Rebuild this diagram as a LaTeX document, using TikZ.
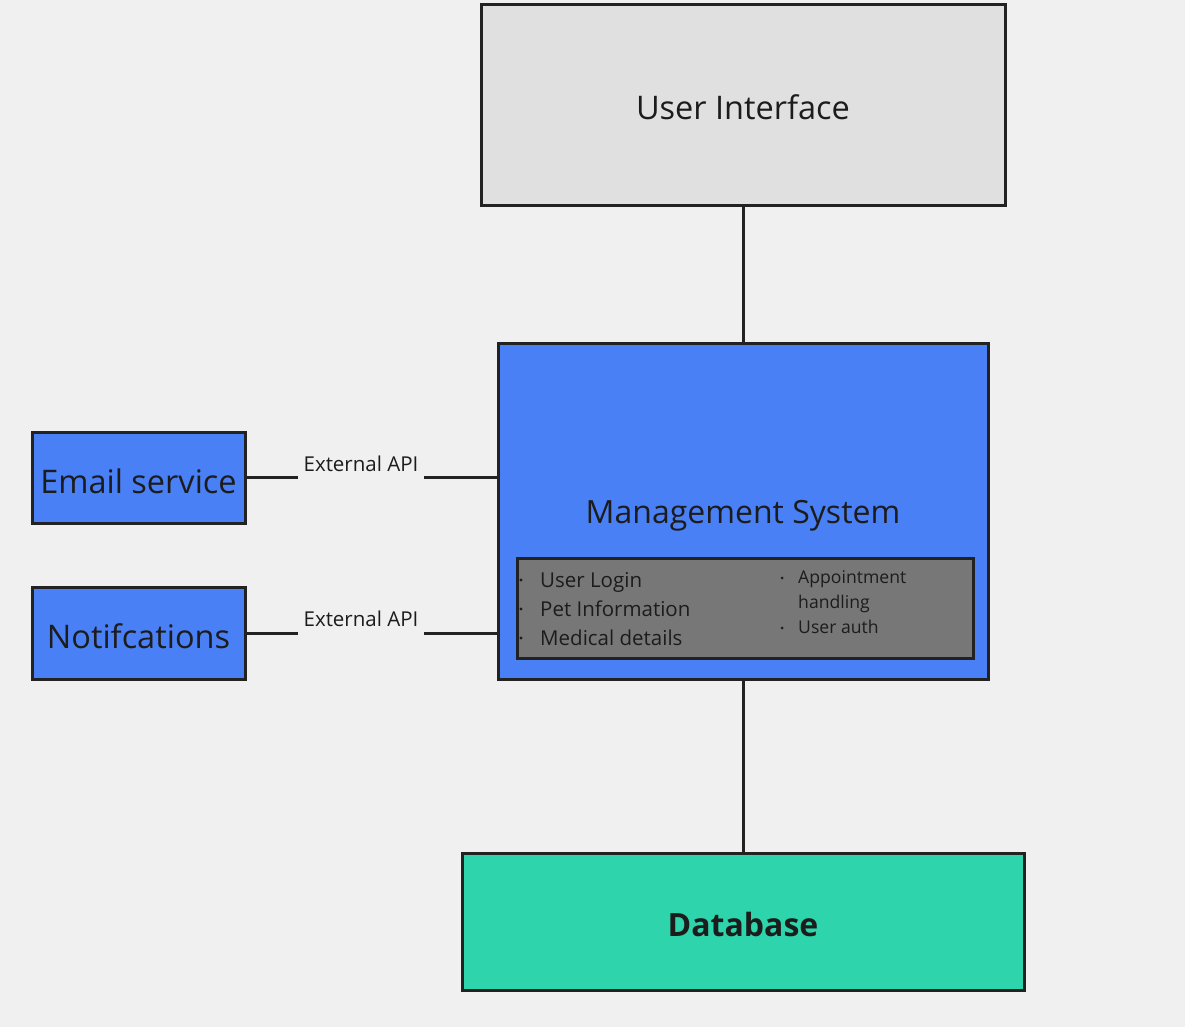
\documentclass[tikz,border=0pt]{standalone}
\usepackage{fontspec}
\setmainfont{Open Sans}
\definecolor{bgc}{RGB}{240,240,240}
\definecolor{edge}{RGB}{34,34,34}
\definecolor{uifill}{RGB}{224,224,224}
\definecolor{msblue}{RGB}{74,128,245}
\definecolor{innergray}{RGB}{119,119,119}
\definecolor{dbteal}{RGB}{45,212,172}
\definecolor{txt}{RGB}{28,28,28}
\begin{document}
\begin{tikzpicture}[x=1pt,y=-1pt,
  box/.style={draw=edge, line width=3pt, inner sep=0pt, text=txt, align=center},
  conn/.style={draw=edge, line width=3pt},
  lbl/.style={text=txt, inner sep=0pt},
  item/.style={text=txt, inner sep=0pt, anchor=base west, font=\fontsize{20.5}{24}\selectfont},
  itemsm/.style={text=txt, inner sep=0pt, anchor=base west, font=\fontsize{17.6}{20}\selectfont},
  dot/.style={fill=txt, draw=none, circle, inner sep=0pt, minimum size=3.4pt}
]
\fill[bgc] (0,0) rectangle (1185,1027);
\useasboundingbox (0,0) rectangle (1185,1027);

\node[box, fill=uifill, minimum width=524pt, minimum height=200pt] (ui) at (743,105) {};
\node[lbl, font=\fontsize{32.5}{38}\selectfont] (uit) at (743,107) {User Interface};
\node[box, fill=msblue, minimum width=490pt, minimum height=336pt] (ms) at (743,511) {};
\node[lbl, font=\fontsize{32}{38}\selectfont] (mstitle) at (743,516) {Management System};
\node[box, fill=innergray, minimum width=456pt, minimum height=100pt] (inner) at (745,608) {};

\node[box, fill=msblue, minimum width=213pt, minimum height=91pt] (email) at (138.5,477.5) {};
\node[lbl, font=\fontsize{32.5}{38}\selectfont] (emailt) at (138.5,481) {Email service};
\node[box, fill=msblue, minimum width=213pt, minimum height=92pt] (notif) at (138.5,633) {};
\node[lbl, font=\fontsize{32.5}{38}\selectfont] (notift) at (138.5,636) {Notifcations};
\node[box, fill=dbteal, minimum width=562pt, minimum height=137pt] (db) at (743,921.5) {};
\node[lbl, font=\fontsize{32}{38}\bfseries\selectfont] (dbt) at (743,924) {Database};

% bullet list left
\node[dot] (d1) at (521,580) {};
\node[dot] (d2) at (521,609) {};
\node[dot] (d3) at (521,638) {};
\node[item] (i1) at (540,587) {User Login};
\node[item] (i2) at (540,616) {Pet Information};
\node[item] (i3) at (540,645) {Medical details};
% bullet list right
\node[dot, minimum size=3pt] (d4) at (782,578) {};
\node[dot, minimum size=3pt] (d5) at (782,628) {};
\node[itemsm] (i4) at (798,583) {Appointment};
\node[itemsm] (i5) at (798,608) {handling};
\node[itemsm] (i6) at (798,633) {User auth};

% connectors
\draw[conn] (ui.south) -- (ms.north);
\draw[conn] (ms.south) -- (db.north);

\coordinate (g1a) at (298,477.5);
\coordinate (g1b) at (424,477.5);
\coordinate (g2a) at (298,633);
\coordinate (g2b) at (424,633);
\draw[conn] (email.east) -- (g1a);
\draw[conn] (g1b) -- (ms.west |- g1b);
\draw[conn] (notif.east) -- (g2a);
\draw[conn] (g2b) -- (ms.west |- g2b);
\node[lbl, font=\fontsize{20.5}{24}\selectfont] (api1) at (361,464) {External API};
\node[lbl, font=\fontsize{20.5}{24}\selectfont] (api2) at (361,619) {External API};
\end{tikzpicture}
\end{document}
